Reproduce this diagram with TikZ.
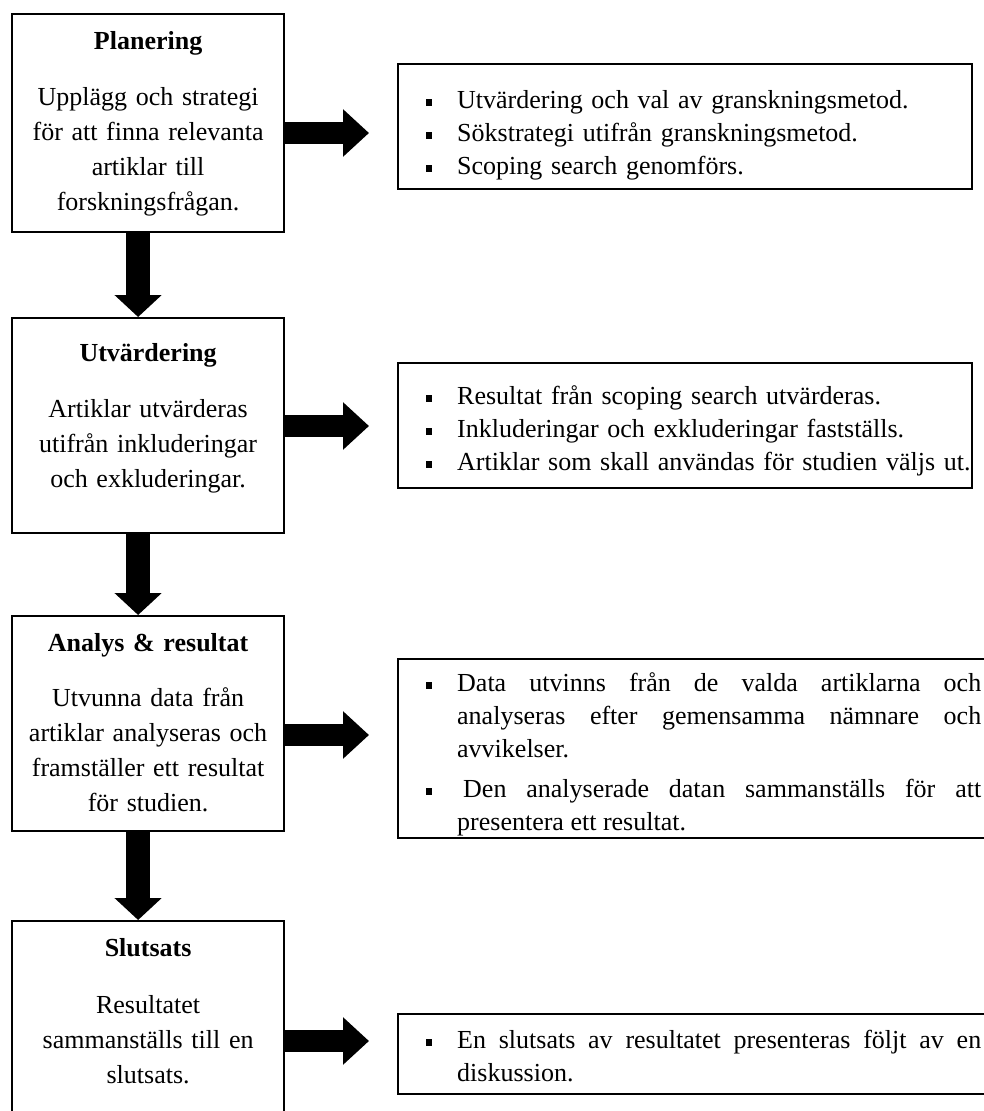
\documentclass[tikz,border=0pt]{standalone}
\usepackage{fontspec}
\setmainfont{Liberation Serif}
\usetikzlibrary{arrows.meta}

\newcommand{\sqitem}{\hangindent=31pt\hangafter=1\noindent\makebox[31pt][l]{\rule[2.5pt]{6pt}{7pt}}}

\tikzset{
	stage/.style = {draw, line width = 2.2pt, anchor = north west, inner sep = 0pt, minimum width = 272pt},
	stagetext/.style = {anchor = north, inner sep = 0pt, text width = 262pt, align = center, font = \fontsize{26}{35}\selectfont},
	listbox/.style = {draw, line width = 2.2pt, anchor = north west, inner sep = 0pt},
	listtext/.style = {anchor = north west, inner sep = 0pt, font = \fontsize{26}{33}\selectfont},
	fatdown/.style = {line width = 24pt, -{Triangle[width = 46pt, length = 22pt]}},
	fatright/.style = {line width = 22pt, -{Triangle[width = 46pt, length = 26pt]}}
}

\begin{document}
\begin{tikzpicture}[x = 1pt, y = -1pt]
	\useasboundingbox (0, 0) rectangle (983, 1111);
	% stages
	\node[stage, minimum height = 218pt] (plan) at (11, 13) {};
		\node[stagetext] (plantext) at ([yshift = -18pt]plan.north) {\textbf{Planering}\\[21pt]Upplägg och strategi\\för att finna relevanta\\artiklar till\\forskningsfrågan.};
	\node[stage, minimum height = 215pt] (utv) at (11, 317) {};
		\node[stagetext] (utvtext) at ([yshift = -26pt]utv.north) {\textbf{Utvärdering}\\[21pt]Artiklar utvärderas\\utifrån inkluderingar\\och exkluderingar.};
	\node[stage, minimum height = 215pt] (analys) at (11, 615) {};
		\node[stagetext] (analystext) at ([yshift = -18pt]analys.north) {\textbf{Analys \& resultat}\\[20pt]Utvunna data från\\artiklar analyseras och\\framställer ett resultat\\för studien.};
	\node[stage, minimum height = 225pt] (slut) at (11, 920) {};
		\node[stagetext] (sluttext) at ([yshift = -18pt]slut.north) {\textbf{Slutsats}\\[22pt]Resultatet\\sammanställs till en\\slutsats.};
	% lists
	\node[listbox, minimum width = 574pt, minimum height = 125pt] (list1) at (397, 63) {};
		\node[listtext, text width = 545pt, align = left] (list1text) at ([xshift = 29pt, yshift = -27pt]list1.north west) {\sqitem Utvärdering och val av granskningsmetod.\par\sqitem Sökstrategi utifrån granskningsmetod.\par\sqitem Scoping search genomförs.\par};
	\node[listbox, minimum width = 574pt, minimum height = 125pt] (list2) at (397, 362) {};
		\node[listtext, text width = 545pt, align = left] (list2text) at ([xshift = 29pt, yshift = -23pt]list2.north west) {\sqitem Resultat från scoping search utvärderas.\par\sqitem Inkluderingar och exkluderingar fastställs.\par\sqitem Artiklar som skall användas för studien väljs ut.\par};
	\node[listbox, minimum width = 620pt, minimum height = 179pt] (list3) at (397, 658) {};
		\node[listtext, text width = 555pt, align = justify] (list3text) at ([xshift = 29pt, yshift = -14pt]list3.north west) {\sqitem Data utvinns från de valda artiklarna och\linebreak analyseras efter gemensamma nämnare och\linebreak avvikelser.\par\vspace{7pt}\sqitem\hspace*{6pt}Den analyserade datan sammanställs för att\linebreak presentera ett resultat.\par};
	\node[listbox, minimum width = 620pt, minimum height = 80pt] (list4) at (397, 1013) {};
		\node[listtext, text width = 555pt, align = justify] (list4text) at ([xshift = 29pt, yshift = -17pt]list4.north west) {\sqitem En slutsats av resultatet presenteras följt av en\linebreak diskussion.\par};
	% arrows
	\draw[fatdown] ([xshift = -10pt]plan.south) -- ([xshift = -10pt]utv.north);
	\draw[fatdown] ([xshift = -10pt]utv.south) -- ([xshift = -10pt]analys.north);
	\draw[fatdown] ([xshift = -10pt]analys.south) -- ([xshift = -10pt]slut.north);
	\coordinate (tip1) at ([xshift = -28pt]list1.west |- 0, 133);
	\coordinate (tip2) at ([xshift = -28pt]list2.west |- 0, 426);
	\coordinate (tip3) at ([xshift = -28pt]list3.west |- 0, 735);
	\coordinate (tip4) at ([xshift = -28pt]list4.west |- 0, 1041);
	\draw[fatright] (plan.east |- tip1) -- (tip1);
	\draw[fatright] (utv.east |- tip2) -- (tip2);
	\draw[fatright] (analys.east |- tip3) -- (tip3);
	\draw[fatright] (slut.east |- tip4) -- (tip4);
\end{tikzpicture}
\end{document}
